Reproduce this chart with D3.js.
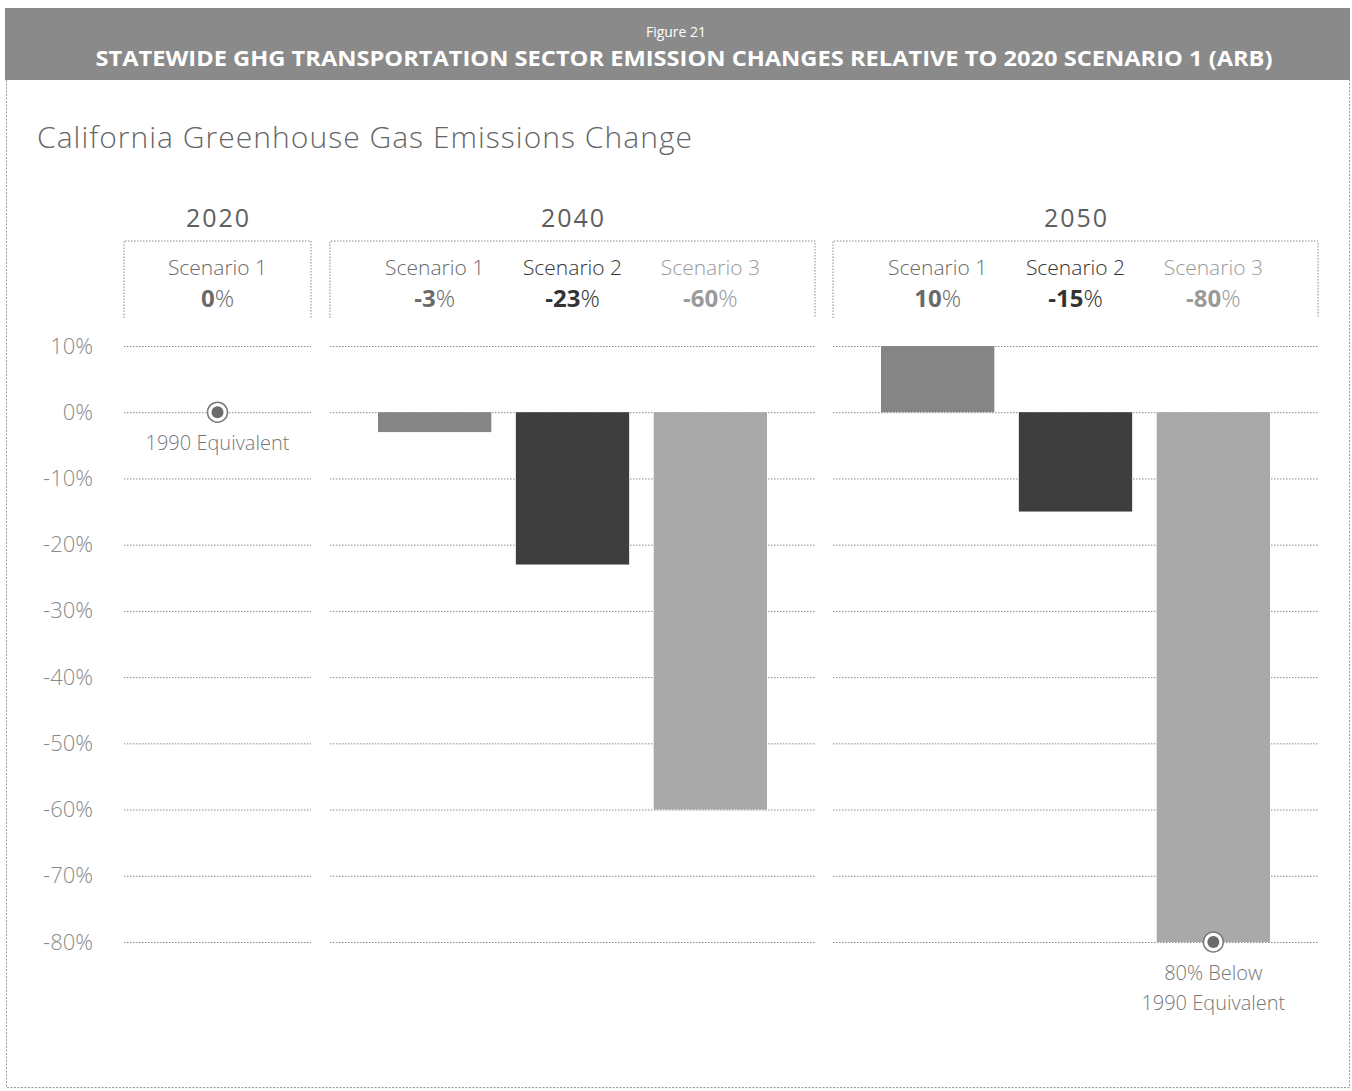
<!DOCTYPE html>
<html>
<head>
<meta charset="utf-8">
<script src="https://cdn.jsdelivr.net/npm/d3@7"></script>
<style>
  html, body { margin: 0; padding: 0; background: #fff; }
  svg { display: block; font-family: "Open Sans", "Noto Sans", sans-serif; }
</style>
</head>
<body>
<script>
// ---- data ----
const figureLabel = "Figure 21";
const figureTitle = "STATEWIDE GHG TRANSPORTATION SECTOR EMISSION CHANGES RELATIVE TO 2020 SCENARIO 1 (ARB)";
const chartTitle = "California Greenhouse Gas Emissions Change";
const years = ["2020", "2040", "2050"];
const scenarios2020 = ["Scenario 1"];
const scenarios = ["Scenario 1", "Scenario 2", "Scenario 3"];
const values2020 = [0];
const values2040 = [-3, -23, -60];
const values2050 = [10, -15, -80];
const yTicks = [10, 0, -10, -20, -30, -40, -50, -60, -70, -80];
const marker2020Label = ["1990 Equivalent"];
const marker2050Label = ["80% Below", "1990 Equivalent"];

// ---- layout / style ----
const W = 1352, H = 1091;
const barFill = {"Scenario 1": "#858585", "Scenario 2": "#3e3e3e", "Scenario 3": "#a9a9a9"};
const labelFill = {"Scenario 1": "#6a6a6a", "Scenario 2": "#333333", "Scenario 3": "#9a9a9a"};
const groupBoxes = {"2020": [124, 311], "2040": [330, 815], "2050": [833, 1318]};
const groupData = [
  {year: years[0], names: scenarios2020, values: values2020, inset: 0},
  {year: years[1], names: scenarios, values: values2040, inset: 48},
  {year: years[2], names: scenarios, values: values2050, inset: 48}
];

const svg = d3.select("body").append("svg").attr("width", W).attr("height", H);

// frame
svg.append("rect").attr("x", 6.5).attr("y", 8.5).attr("width", 1343).attr("height", 1079)
  .attr("fill", "none").attr("stroke", "#9a9a9a").attr("stroke-width", 1).attr("stroke-dasharray", "2,1.5");

// title bar
svg.append("rect").attr("x", 5).attr("y", 8).attr("width", 1345).attr("height", 72).attr("fill", "#8a8a8a");
svg.append("text").attr("x", 676).attr("y", 37).attr("text-anchor", "middle")
  .attr("fill", "#fff").attr("font-size", 14).text(figureLabel);
svg.append("text").attr("x", 684).attr("y", 66).attr("text-anchor", "middle")
  .attr("fill", "#fff").attr("font-size", 21).attr("font-weight", 700)
  .attr("textLength", 1177).attr("lengthAdjust", "spacingAndGlyphs").text(figureTitle);

// chart title
svg.append("text").attr("x", 37).attr("y", 148).attr("fill", "#666").attr("font-size", 30)
  .attr("font-weight", 300).attr("textLength", 655).attr("lengthAdjust", "spacing").text(chartTitle);

// y scale
const y = d3.scaleLinear().domain([-80, 10]).range([942, 346]);

// y axis labels
const axis = d3.axisLeft(y).tickValues(yTicks).tickSize(0).tickPadding(0).tickFormat(d => d + "%");
const ax = svg.append("g").attr("transform", "translate(93,0)").call(axis);
ax.select(".domain").remove();
ax.selectAll("text").attr("fill", "#8a8a8a").attr("font-size", 22).attr("font-weight", 300)
  .attr("font-family", "'Open Sans', sans-serif");

const dash = "1.5,1.5";

groupData.forEach(g => {
  const [x0, x1] = groupBoxes[g.year];
  const x = d3.scaleBand().domain(g.names).range([x0 + g.inset, x1 - g.inset])
    .paddingInner(g.names.length > 1 ? 0.178 : 0).paddingOuter(0);
  const G = svg.append("g");

  // year label
  G.append("text").attr("x", (x0 + x1) / 2 + 1).attr("y", 227).attr("text-anchor", "middle")
    .attr("fill", "#5e5e5e").attr("font-size", 25).attr("letter-spacing", 2).text(g.year);

  // header box (top + sides)
  G.append("path").attr("d", `M${x0},318V241H${x1}V318`).attr("fill", "none")
    .attr("stroke", "#8a8a8a").attr("stroke-width", 1).attr("stroke-dasharray", dash);

  // gridlines
  G.selectAll("line.grid").data(yTicks).join("line").attr("class", "grid")
    .attr("x1", x0).attr("x2", x1).attr("y1", d => y(d) + 0.5).attr("y2", d => y(d) + 0.5)
    .attr("stroke", "#8a8a8a").attr("stroke-width", 1).attr("stroke-dasharray", dash);

  const rows = g.names.map((n, i) => ({name: n, value: g.values[i]}));

  // scenario labels
  G.selectAll("text.sc").data(rows).join("text").attr("class", "sc")
    .attr("x", d => x(d.name) + x.bandwidth() / 2).attr("y", 275).attr("text-anchor", "middle")
    .attr("fill", d => labelFill[d.name]).attr("font-size", 21).attr("font-weight", 300)
    .text(d => d.name);
  const vt = G.selectAll("text.val").data(rows).join("text").attr("class", "val")
    .attr("x", d => x(d.name) + x.bandwidth() / 2).attr("y", 307).attr("text-anchor", "middle")
    .attr("fill", d => labelFill[d.name]).attr("font-size", 24);
  vt.append("tspan").attr("font-weight", 700).text(d => String(d.value));
  vt.append("tspan").attr("font-weight", 300).text("%");

  // bars (2040, 2050)
  if (g.names.length > 1) {
    G.selectAll("rect.bar").data(rows).join("rect").attr("class", "bar")
      .attr("x", d => x(d.name)).attr("width", x.bandwidth())
      .attr("y", d => y(Math.max(0, d.value))).attr("height", d => Math.abs(y(d.value) - y(0)))
      .attr("fill", d => barFill[d.name]);
  }
  g.x = x;
});

// markers
function marker(cx, cy, lines) {
  const M = svg.append("g");
  M.append("circle").attr("cx", cx).attr("cy", cy).attr("r", 10).attr("fill", "#fff")
    .attr("stroke", "#7a7a7a").attr("stroke-width", 1.5);
  M.append("circle").attr("cx", cx).attr("cy", cy).attr("r", 6).attr("fill", "#6a6a6a");
  lines.forEach((t, i) => {
    M.append("text").attr("x", cx).attr("y", cy + 38 + i * 30).attr("text-anchor", "middle")
      .attr("fill", "#777").attr("font-size", 20).attr("font-weight", 300).text(t);
  });
}
const g20 = groupData[0], g50 = groupData[2];
marker(g20.x(scenarios2020[0]) + g20.x.bandwidth() / 2, y(values2020[0]), marker2020Label);
marker(g50.x(scenarios[2]) + g50.x.bandwidth() / 2, y(values2050[2]), marker2050Label);
</script>
</body>
</html>
